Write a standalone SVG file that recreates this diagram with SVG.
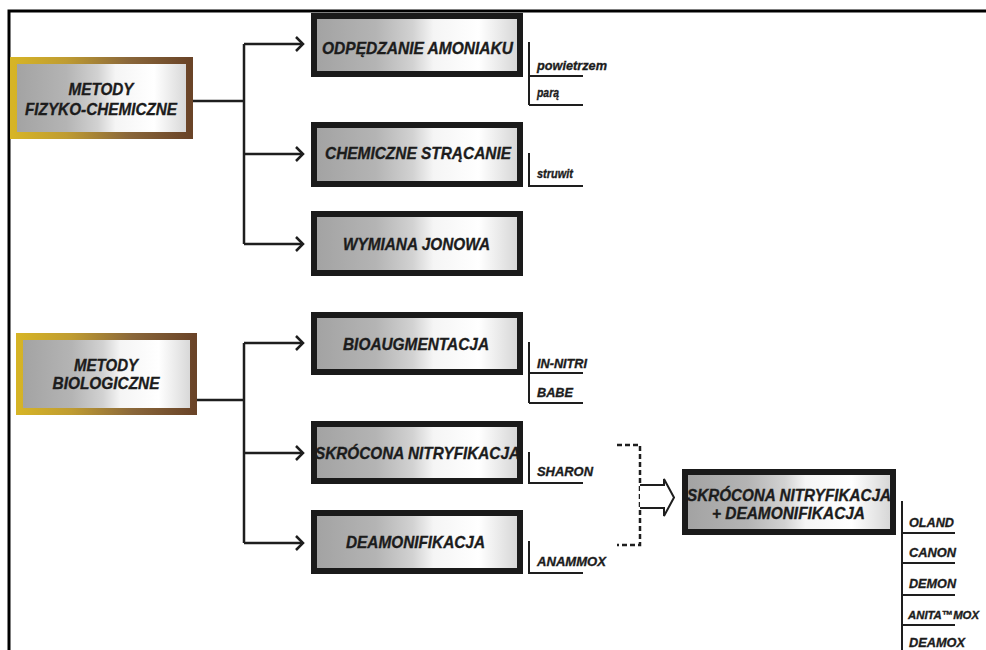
<svg xmlns="http://www.w3.org/2000/svg" width="986" height="650" viewBox="0 0 986 650">
<style>
.t{font-family:"Liberation Sans",Arial,sans-serif;font-weight:bold;font-style:italic;fill:#1c1c1c;stroke:#1c1c1c;stroke-width:0.35}
.big{font-size:17px}
.mid{font-size:16px}
.sm{font-size:13.5px}
.box{fill:url(#silver);stroke:#1a1a1a;stroke-width:6}
.gbox{fill:url(#silver);stroke:url(#gold);stroke-width:7}
.ln{fill:none;stroke:#1e1e1e;stroke-width:2.5}
.sub{fill:none;stroke:#1e1e1e;stroke-width:2}
.dash{fill:none;stroke:#1e1e1e;stroke-width:2.5;stroke-dasharray:5 3}
</style>
<defs>
<linearGradient id="silver" x1="0" y1="0" x2="1" y2="0">
<stop offset="0" stop-color="#a2a2a2"/>
<stop offset="0.3" stop-color="#b4b4b4"/>
<stop offset="0.48" stop-color="#d2d2d2"/>
<stop offset="0.58" stop-color="#f5f5f5"/>
<stop offset="0.8" stop-color="#ffffff"/>
<stop offset="1" stop-color="#d4d4d4"/>
</linearGradient>
<linearGradient id="gold" x1="0" y1="0" x2="1" y2="0">
<stop offset="0" stop-color="#d6b426"/>
<stop offset="0.3" stop-color="#bf9c32"/>
<stop offset="0.65" stop-color="#8a673a"/>
<stop offset="1" stop-color="#6a4428"/>
</linearGradient>
</defs>
<rect width="986" height="650" fill="#ffffff"/>
<path d="M9,650 V11 H986" fill="none" stroke="#000" stroke-width="3"/>

<g id="connectors">
<path class="ln" d="M193,101 H244 M244,44 V244 M244,44 H303 M244,154 H303 M244,244 H303"/>
<path class="ln" d="M296,37 L303,44 L296,51 M296,147 L303,154 L296,161 M296,237 L303,244 L296,251"/>
<path class="ln" d="M197,400 H244 M244,343 V543 M244,343 H303 M244,453 H303 M244,543 H303"/>
<path class="ln" d="M296,336 L303,343 L296,350 M296,446 L303,453 L296,460 M296,536 L303,543 L296,550"/>
<path class="dash" d="M617,445 H640 V545 H617"/>
<path d="M640,485 H664 V479 L674,497.5 L664,516 V508 H640" fill="#fff" stroke="#1e1e1e" stroke-width="2"/>
</g>

<g id="fizchem">
<rect class="gbox" x="13.5" y="60.5" width="176" height="75"/>
<text class="t big" x="101" y="95" text-anchor="middle" textLength="65" lengthAdjust="spacingAndGlyphs">METODY</text>
<text class="t big" x="101" y="115" text-anchor="middle" textLength="152" lengthAdjust="spacingAndGlyphs">FIZYKO-CHEMICZNE</text>
</g>

<g id="biol">
<rect class="gbox" x="19.5" y="336.5" width="174" height="75"/>
<text class="t big" x="106" y="371" text-anchor="middle" textLength="64" lengthAdjust="spacingAndGlyphs">METODY</text>
<text class="t big" x="106" y="389" text-anchor="middle" textLength="107" lengthAdjust="spacingAndGlyphs">BIOLOGICZNE</text>
</g>

<g id="odpedzanie">
<rect class="box" x="314" y="16" width="206" height="58"/>
<text class="t big" x="417.5" y="54" text-anchor="middle" textLength="191" lengthAdjust="spacingAndGlyphs">ODPĘDZANIE AMONIAKU</text>
<path class="sub" d="M529,42 V105 M529,76 H583 M529,105 H583"/>
<text class="t sm" x="537" y="70" textLength="70" lengthAdjust="spacingAndGlyphs">powietrzem</text>
<text class="t sm" x="537" y="97" textLength="22" lengthAdjust="spacingAndGlyphs">parą</text>
</g>

<g id="chemiczne">
<rect class="box" x="314" y="125" width="206" height="59"/>
<text class="t big" x="418" y="159" text-anchor="middle" textLength="186" lengthAdjust="spacingAndGlyphs">CHEMICZNE STRĄCANIE</text>
<path class="sub" d="M529,153 V186 H583"/>
<text class="t sm" x="537" y="178" textLength="36" lengthAdjust="spacingAndGlyphs">struwit</text>
</g>

<g id="wymiana">
<rect class="box" x="314" y="214" width="206" height="59"/>
<text class="t big" x="416.5" y="250" text-anchor="middle" textLength="147" lengthAdjust="spacingAndGlyphs">WYMIANA JONOWA</text>
</g>

<g id="bioaug">
<rect class="box" x="314" y="315" width="206" height="57"/>
<text class="t big" x="416" y="350" text-anchor="middle" textLength="146" lengthAdjust="spacingAndGlyphs">BIOAUGMENTACJA</text>
<path class="sub" d="M529,342 V403 M529,373 H583 M529,403 H583"/>
<text class="t sm" x="537" y="368" textLength="50" lengthAdjust="spacingAndGlyphs">IN-NITRI</text>
<text class="t sm" x="537" y="397" textLength="36" lengthAdjust="spacingAndGlyphs">BABE</text>
</g>

<g id="skrocona">
<rect class="box" x="314" y="424" width="206" height="57"/>
<text class="t big" x="417.5" y="459" text-anchor="middle" textLength="205" lengthAdjust="spacingAndGlyphs">SKRÓCONA NITRYFIKACJA</text>
<path class="sub" d="M529,452 V483 H583"/>
<text class="t sm" x="537" y="476" textLength="56" lengthAdjust="spacingAndGlyphs">SHARON</text>
</g>

<g id="deamon">
<rect class="box" x="314" y="513" width="206" height="58"/>
<text class="t big" x="415.5" y="548" text-anchor="middle" textLength="139" lengthAdjust="spacingAndGlyphs">DEAMONIFIKACJA</text>
<path class="sub" d="M529,541 V573 H583"/>
<text class="t sm" x="537" y="566" textLength="69" lengthAdjust="spacingAndGlyphs">ANAMMOX</text>
</g>

<g id="combined">
<rect class="box" x="685" y="472" width="208" height="60"/>
<text class="t mid" x="789" y="501" text-anchor="middle" textLength="204" lengthAdjust="spacingAndGlyphs">SKRÓCONA NITRYFIKACJA</text>
<text class="t mid" x="788.5" y="519" text-anchor="middle" textLength="153" lengthAdjust="spacingAndGlyphs">+ DEAMONIFIKACJA</text>
<path class="sub" d="M902,501 V650 M902,533 H955 M902,563 H955 M902,595 H955 M902,625 H955"/>
<text class="t sm" x="909" y="527" textLength="45" lengthAdjust="spacingAndGlyphs">OLAND</text>
<text class="t sm" x="909" y="557" textLength="47" lengthAdjust="spacingAndGlyphs">CANON</text>
<text class="t sm" x="909" y="588" textLength="47" lengthAdjust="spacingAndGlyphs">DEMON</text>
<text class="t" font-size="11.5" x="908" y="619" textLength="71" lengthAdjust="spacingAndGlyphs">ANITA™MOX</text>
<text class="t sm" x="909" y="647" textLength="56" lengthAdjust="spacingAndGlyphs">DEAMOX</text>
</g>
</svg>
